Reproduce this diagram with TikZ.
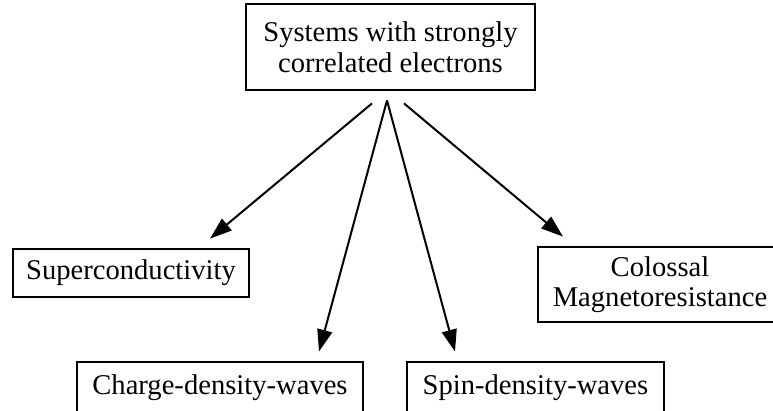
\documentclass[tikz,border=0pt]{standalone}
\usepackage{fontspec}
\setmainfont{Liberation Serif}
\usetikzlibrary{arrows.meta,calc}
\begin{document}
\begin{tikzpicture}[x=1pt,y=-1pt,
  box/.style={draw=black,line width=2.8pt,inner sep=0pt,align=center,
    font=\fontsize{28.6}{30.5}\selectfont},
  arr/.style={line width=2pt,-{Triangle[length=22pt,width=15pt]}}]
\useasboundingbox (0,0) rectangle (773,410);
\clip (0,0) rectangle (773,410);
\node[box,minimum width=289pt,minimum height=86pt] (top) at (390.5,47) {Systems with strongly\\correlated electrons};
\node[box,minimum width=236pt,minimum height=48pt] (sup) at (131,273) {Superconductivity};
\node[box,minimum width=244pt,minimum height=75pt] (col) at (660,284.5) {Colossal\\Magnetoresistance};
\node[box,minimum width=286pt,minimum height=52pt] (cdw) at (220,388) {Charge-density-waves};
\node[box,minimum width=257pt,minimum height=52pt] (sdw) at (535.5,388) {Spin-density-waves};
\coordinate (s1) at ($(top.south)+(-18.5,12)$);
\coordinate (s2) at ($(top.south)+(-3.5,9)$);
\coordinate (s3) at ($(top.south)+(13.5,12)$);
\coordinate (e1) at ($(sup.north)+(79,-9)$);
\coordinate (e2) at ($(cdw.north)+(99,-9)$);
\coordinate (e3) at ($(sdw.north)+(-80.5,-9)$);
\coordinate (e4) at ($(col.north)+(-97,-9)$);
\draw[arr] (s1) -- (e1);
\draw[arr] (s2) -- (e2);
\draw[arr] (s2) -- (e3);
\draw[arr] (s3) -- (e4);
\end{tikzpicture}
\end{document}
